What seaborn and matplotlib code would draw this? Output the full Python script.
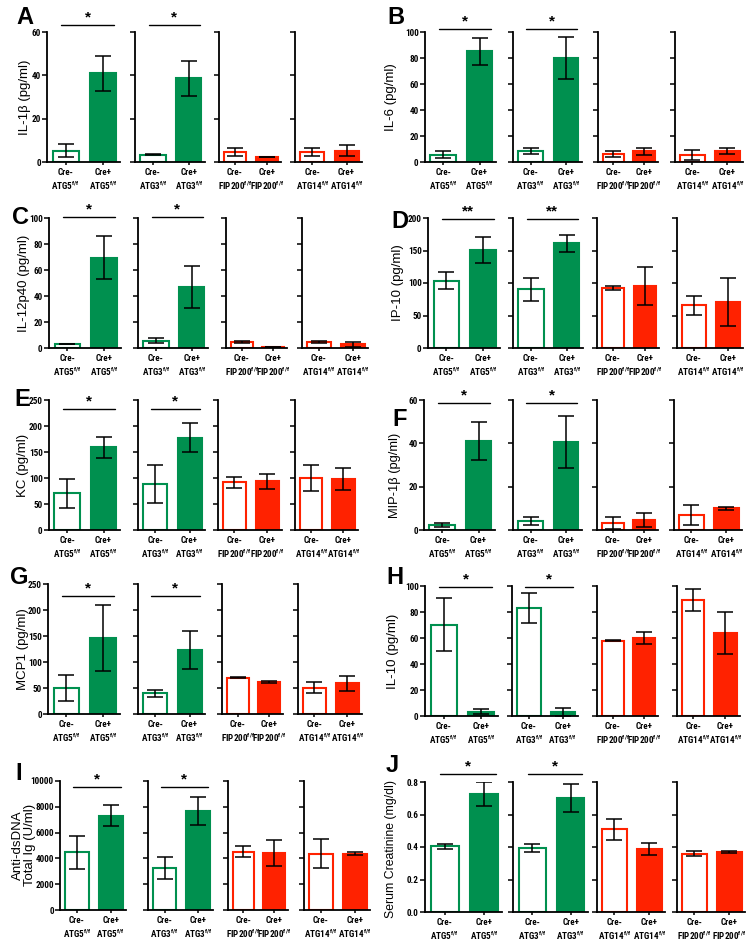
import os
import numpy as np
import pandas as pd
import matplotlib
matplotlib.use("Agg")
import matplotlib.pyplot as plt
from matplotlib import font_manager as fm
import seaborn as sns

sns.set_theme(style="ticks", rc={
    "axes.edgecolor": "black", "text.color": "black", "axes.labelcolor": "black",
    "xtick.color": "black", "ytick.color": "black",
})
plt.rcParams["font.family"] = ["Liberation Sans", "DejaVu Sans"]
plt.rcParams["mathtext.default"] = "regular"


def pick_condensed_bold():
    pref = ["liberation sans narrow", "arial narrow", "roboto condensed", "dejavu sans",
            "noto sans", "open sans", "roboto"]
    best, best_score = None, None
    for f in fm.fontManager.ttflist:
        fn = os.path.basename(f.fname).lower()
        name = f.name.lower()
        stretch = str(f.stretch).lower()
        cond = ("condensed" in stretch or "narrow" in name or "condensed" in name
                or "condensed" in fn or "narrow" in fn)
        if not cond:
            continue
        if "extra" in fn or "ultra" in fn or "extra" in stretch or "ultra" in stretch:
            continue
        if f.style != "normal" or "italic" in fn or "oblique" in fn:
            continue
        w = f.weight
        if isinstance(w, str):
            w = fm.weight_dict.get(w, 400)
        fam_rank = next((k for k, p in enumerate(pref) if name.startswith(p)), len(pref))
        score = (abs(w - 700), fam_rank)
        if best_score is None or score < best_score:
            best, best_score = f, score
    return best


_cf = pick_condensed_bold()
if _cf is not None:
    TICKFONT = dict(fname=_cf.fname)
    TICKSIZE = 6.6
else:
    TICKFONT = dict(family=["Liberation Sans", "DejaVu Sans"], weight="bold")
    TICKSIZE = 5.6

GREEN = "#00904f"
RED = "#ff2200"

# ---------------- data ----------------
genotypes = ["Cre-", "Cre+"]
groups = ["ATG5", "ATG3", "FIP200", "ATG14"]
groups_J = ["ATG5", "ATG3", "ATG14", "FIP200"]
group_colors = {"ATG5": GREEN, "ATG3": GREEN, "FIP200": RED, "ATG14": RED}

il1b_mean = [5.2, 41.0, 3.4, 38.6, 4.6, 2.2, 4.8, 5.2]
il1b_err = [2.9, 8.0, 0.2, 8.0, 1.9, 0.0, 1.8, 2.5]
il6_mean = [5.4, 85.1, 8.2, 80.0, 6.2, 8.2, 5.6, 8.7]
il6_err = [2.7, 10.5, 2.4, 16.0, 2.2, 2.5, 4.0, 2.3]
il12_mean = [3.3, 69.5, 5.6, 46.9, 4.9, 1.0, 4.6, 2.8]
il12_err = [0.0, 16.7, 2.0, 15.9, 0.7, 0.0, 0.6, 1.9]
ip10_mean = [103.6, 151.3, 90.3, 161.0, 92.8, 95.4, 65.6, 70.3]
ip10_err = [13.0, 20.0, 17.5, 13.3, 3.1, 29.5, 14.4, 37.2]
kc_mean = [70.5, 159.0, 88.5, 177.6, 91.7, 93.6, 100.6, 98.0]
kc_err = [27.5, 20.0, 37.2, 28.5, 10.0, 14.5, 25.0, 21.2]
mip_mean = [2.2, 41.1, 4.0, 40.6, 3.2, 4.6, 7.1, 10.0]
mip_err = [0.9, 8.9, 1.9, 12.0, 2.7, 3.1, 4.6, 0.75]
mcp1_mean = [50.0, 146.8, 39.7, 123.0, 69.9, 61.5, 50.6, 59.0]
mcp1_err = [25.0, 63.6, 6.5, 36.9, 0.8, 2.2, 10.3, 14.7]
il10_mean = [70.3, 3.3, 83.3, 3.1, 58.0, 60.0, 89.5, 63.8]
il10_err = [20.1, 1.8, 11.7, 2.8, 0.5, 4.9, 8.4, 16.4]
dsdna_mean = [4470, 7313, 3256, 7674, 4522, 4419, 4367, 4367]
dsdna_err = [1266, 814, 866, 1047, 413, 995, 1124, 103]
creat_mean = [0.404, 0.726, 0.394, 0.702, 0.509, 0.388, 0.359, 0.369]
creat_err = [0.014, 0.076, 0.027, 0.088, 0.064, 0.035, 0.015, 0.006]

panels = [
    dict(letter="A", ylabel="IL-1β (pg/ml)", mean=il1b_mean, err=il1b_err, groups=groups,
         yticks=[0, 20, 40, 60], ticklabels=None, sig="*"),
    dict(letter="B", ylabel="IL-6 (pg/ml)", mean=il6_mean, err=il6_err, groups=groups,
         yticks=[0, 20, 40, 60, 80, 100], ticklabels=None, sig="*"),
    dict(letter="C", ylabel="IL-12p40 (pg/ml)", mean=il12_mean, err=il12_err, groups=groups,
         yticks=[0, 20, 40, 60, 80, 100], ticklabels=None, sig="*"),
    dict(letter="D", ylabel="IP-10 (pg/ml)", mean=ip10_mean, err=ip10_err, groups=groups,
         yticks=[0, 50, 100, 150, 200], ticklabels=None, sig="**"),
    dict(letter="E", ylabel="KC (pg/ml)", mean=kc_mean, err=kc_err, groups=groups,
         yticks=[0, 50, 100, 150, 200, 250], ticklabels=None, sig="*"),
    dict(letter="F", ylabel="MIP-1β (pg/ml)", mean=mip_mean, err=mip_err, groups=groups,
         yticks=[0, 20, 40, 60], ticklabels=None, sig="*"),
    dict(letter="G", ylabel="MCP1 (pg/ml)", mean=mcp1_mean, err=mcp1_err, groups=groups,
         yticks=[0, 50, 100, 150, 200, 250], ticklabels=None, sig="*"),
    dict(letter="H", ylabel="IL-10 (pg/ml)", mean=il10_mean, err=il10_err, groups=groups,
         yticks=[0, 20, 40, 60, 80, 100], ticklabels=None, sig="*"),
    dict(letter="I", ylabel="Anti-dsDNA\nTotal Ig (U/ml)", mean=dsdna_mean, err=dsdna_err, groups=groups,
         yticks=[0, 2000, 4000, 6000, 8000, 10000], ticklabels=None, sig="*"),
    dict(letter="J", ylabel="Serum Creatinine (mg/dl)", mean=creat_mean, err=creat_err, groups=groups_J,
         yticks=[0, 0.2, 0.4, 0.6, 0.8], ticklabels=["0.0", "0.2", "0.4", "0.6", "0.8"], sig="*"),
]

# ---------------- layout (pixels) ----------------
W, H = 751, 952
layout = {
    "A": dict(xs=[47, 135, 219, 295], ws=[73, 70, 62, 67], top=32, bot=162, ylab=31, ylc=97, yfs=9.5, let=(16, 18), sigoff=7),
    "B": dict(xs=[425, 513, 598, 675], ws=[71, 69, 60, 68], top=32, bot=162, ylab=397, ylc=97, yfs=9.5, let=(387, 17), sigoff=3),
    "C": dict(xs=[49, 138, 226, 302], ws=[72, 70, 61, 66], top=218, bot=348, ylab=30, ylc=283, yfs=9.5, let=(12, 217), sigoff=1),
    "D": dict(xs=[428, 513, 597, 677], ws=[72, 70, 62, 66], top=218, bot=348, ylab=404, ylc=283, yfs=9.5, let=(391, 221), sigoff=-1),
    "E": dict(xs=[49, 138, 218, 295], ws=[71, 67, 64, 63], top=400, bot=530, ylab=29, ylc=465, yfs=9.5, let=(14, 399), sigoff=-9),
    "F": dict(xs=[424, 513, 597, 674], ws=[71, 69, 61, 68], top=400, bot=530, ylab=401, ylc=475, yfs=9.3, let=(392, 419), sigoff=-3),
    "G": dict(xs=[48, 138, 222, 298], ws=[72, 67, 61, 64], top=584, bot=714, ylab=29, ylc=649, yfs=9.5, let=(10, 577), sigoff=-12),
    "H": dict(xs=[425, 512, 597, 677], ws=[73, 66, 61, 63], top=586, bot=716, ylab=399, ylc=651, yfs=9.5, let=(386, 577), sigoff=-1),
    "I": dict(xs=[60, 148, 228, 304], ws=[66, 65, 60, 66], top=781, bot=910, ylab=36, ylc=845, yfs=9.5, let=(15, 773), sigoff=-6),
    "J": dict(xs=[425, 513, 597, 677], ws=[77, 75, 68, 68], top=782, bot=912, ylab=397, ylc=849, yfs=8.8, let=(386, 766), sigoff=8),
}
XLIM = (-0.5, 1.45)

fig = plt.figure(figsize=(W / 100, H / 100), dpi=100)

for p in panels:
    L = layout[p["letter"]]
    ymax = p["yticks"][-1]
    hpx = L["bot"] - L["top"]
    for i, g in enumerate(p["groups"]):
        x0, w = L["xs"][i], L["ws"][i]
        ax = fig.add_axes([x0 / W, 1 - L["bot"] / H, w / W, hpx / H])
        col = group_colors[g]
        vals = p["mean"][2 * i:2 * i + 2]
        errs = p["err"][2 * i:2 * i + 2]
        df = pd.DataFrame({"genotype": genotypes, "value": vals})
        sns.barplot(data=df, x="genotype", y="value", ax=ax, color=col, width=0.7,
                    errorbar=None, saturation=1)
        for j, patch in enumerate(ax.patches):
            patch.set_edgecolor(col)
            patch.set_linewidth(1.5)
            patch.set_facecolor("white" if j == 0 else col)
        ax.errorbar([0, 1], vals, yerr=errs, fmt="none", ecolor="black",
                    elinewidth=1.1, capsize=6, capthick=1.1, zorder=5)
        ax.set_xlim(*XLIM)
        ax.set_ylim(0, ymax)
        ax.set_yticks(p["yticks"])
        if i == 0:
            ax.set_yticklabels(p["ticklabels"] if p["ticklabels"] else [str(t) for t in p["yticks"]])
            ax.set_ylabel(p["ylabel"], fontsize=L["yfs"], linespacing=1.0)
            ax.yaxis.set_label_coords((L["ylab"] - x0) / w, (L["bot"] - L["ylc"]) / hpx)
        else:
            ax.set_yticklabels([])
            ax.set_ylabel("")
        ax.set_xlabel("")
        ax.set_xticks([0, 1])
        ax.set_xticklabels([f"Cre-\n{g}$^{{f/f}}$", f"Cre+\n{g}$^{{f/f}}$"])
        for lbl in ax.get_xticklabels() + ax.get_yticklabels():
            lbl.set_fontproperties(fm.FontProperties(size=TICKSIZE, **TICKFONT))
        ax.tick_params(axis="y", length=3.5, width=1.1, pad=1)
        ax.tick_params(axis="x", length=2.5, width=1.1, pad=2)
        sns.despine(ax=ax)
        for s in ["left", "bottom"]:
            ax.spines[s].set_linewidth(1.3)
        ax.set_facecolor("none")
        # significance bar over the first two sub-panels
        if i < 2:
            yl = 1 + L["sigoff"] / hpx
            ax.plot([-0.12, 1.3], [yl, yl], color="black", lw=1.0,
                    transform=ax.get_xaxis_transform(), clip_on=False)
            ax.text(0.59, yl + 0.005, p["sig"], transform=ax.get_xaxis_transform(),
                    ha="center", va="bottom", fontsize=11, fontweight="bold")
    fig.text(L["let"][0] / W, 1 - L["let"][1] / H, p["letter"], fontsize=17,
             fontweight="bold", ha="left", va="center")

fig.savefig("out.png", dpi=100)
